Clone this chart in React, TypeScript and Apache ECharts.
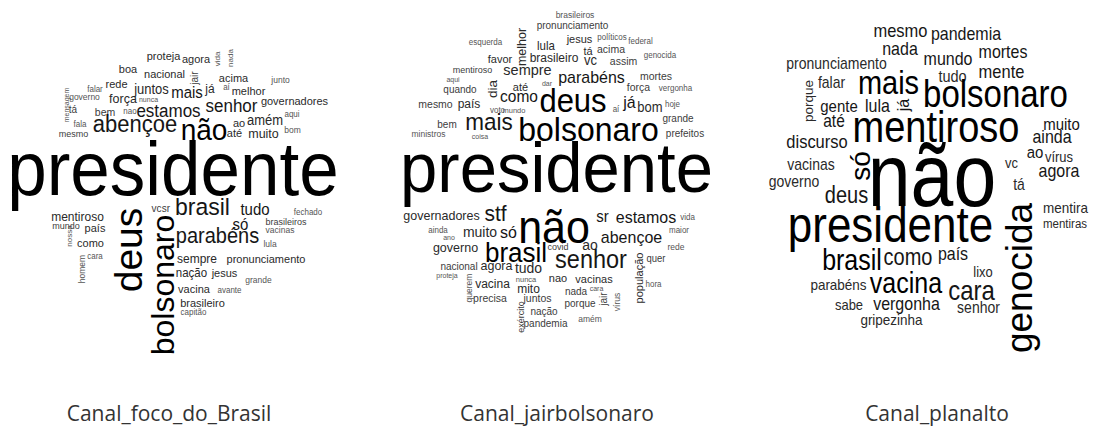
import React, { useEffect, useRef } from "react";
import * as echarts from "echarts";

// [word, font size (frequency), x, baseline y, rotation]
type Word = [string, number, number, number, number];

const focoWords: Word[] = [
  ["presidente", 71, 173, 195, 0],
  ["proteja", 11, 163.5, 60, 0],
  ["agora", 11, 196, 63, 0],
  ["boa", 11, 128, 73, 0],
  ["nacional", 11, 164.5, 78, 0],
  ["falar", 8, 95, 92, 0],
  ["rede", 11, 116.5, 88, 0],
  ["juntos", 13, 151.5, 94, 0],
  ["mais", 15, 187, 98, 0],
  ["governo", 8.5, 84.5, 100, 0],
  ["força", 12.5, 123, 103, 0],
  ["nunca", 7, 148.5, 102, 0],
  ["tá", 10, 73, 113, 0],
  ["bem", 10.5, 105, 116, 0],
  ["nao", 8, 130, 114, 0],
  ["estamos", 17, 168.5, 117, 0],
  ["fala", 8, 80, 127, 0],
  ["mesmo", 9, 73.5, 137, 0],
  ["abençoe", 22, 135, 132, 0],
  ["não", 28, 204, 140, 0],
  ["acima", 11, 233.5, 82, 0],
  ["junto", 8.5, 280.5, 83, 0],
  ["já", 12, 210, 93, 0],
  ["aí", 8, 226.5, 90, 0],
  ["melhor", 11, 248.5, 95, 0],
  ["senhor", 17, 231.5, 112, 0],
  ["governadores", 11, 294.5, 105, 0],
  ["aqui", 8, 292, 117, 0],
  ["ao", 11, 239, 127, 0],
  ["amém", 13, 265, 125, 0],
  ["bom", 8.5, 292.5, 133, 0],
  ["até", 11, 234.5, 137, 0],
  ["muito", 12.5, 263.5, 138, 0],
  ["mentiroso", 12, 77.5, 221, 0],
  ["mundo", 9, 66, 229, 0],
  ["país", 11, 95, 232, 0],
  ["como", 11, 90.5, 247, 0],
  ["cara", 8, 95, 259, 0],
  ["vc", 10, 156.5, 212, 0],
  ["sr", 10, 166, 212, 0],
  ["brasil", 23, 202.5, 215, 0],
  ["tudo", 15, 255, 215, 0],
  ["só", 15, 240.5, 230, 0],
  ["fechado", 8, 308, 215, 0],
  ["brasileiros", 9, 286, 225, 0],
  ["vacinas", 8.5, 280, 233, 0],
  ["parabéns", 20, 217.5, 243, 0],
  ["lula", 8.5, 270, 247, 0],
  ["sempre", 12, 197, 263, 0],
  ["pronunciamento", 11, 266, 263, 0],
  ["nação", 11.5, 191.5, 277, 0],
  ["jesus", 11, 224.5, 277, 0],
  ["grande", 8.5, 258.5, 283, 0],
  ["vacina", 11, 194, 293, 0],
  ["avante", 8, 229.5, 293, 0],
  ["brasileiro", 11, 202.5, 307, 0],
  ["capitão", 8, 193.5, 315, 0],
  ["mensagem", 7, 69, 105, 90],
  ["vida", 8, 220, 59, 90],
  ["nada", 8, 233, 58, 90],
  ["jair", 10, 198, 78, 90],
  ["nossa", 8, 72, 236, 90],
  ["homem", 8.5, 85, 269, 90],
  ["deus", 39, 142, 250, 90],
  ["bolsonaro", 32, 174, 285, 90],
];

const jairWords: Word[] = [
  ["brasileiros", 8.5, 575, 18, 0],
  ["pronunciamento", 10, 572.5, 29, 0],
  ["esquerda", 8, 485.5, 45, 0],
  ["lula", 11.5, 546, 50, 0],
  ["jesus", 11, 579.5, 43, 0],
  ["políticos", 8, 612, 40, 0],
  ["federal", 8, 640.5, 44, 0],
  ["tá", 11, 588, 55, 0],
  ["acima", 10.5, 611, 53, 0],
  ["brasileiro", 12, 554, 62, 0],
  ["vc", 13, 590.5, 65, 0],
  ["assim", 10.5, 623.5, 65, 0],
  ["genocida", 8, 660, 58, 0],
  ["favor", 11, 500, 63, 0],
  ["mentiroso", 9, 472.5, 73, 0],
  ["sempre", 14.5, 527.5, 75, 0],
  ["aqui", 7, 453, 82, 0],
  ["quando", 10, 460, 93, 0],
  ["até", 11, 520.5, 91, 0],
  ["dar", 7, 547, 86, 0],
  ["como", 15.5, 519, 102, 0],
  ["mesmo", 10.5, 435.5, 108, 0],
  ["país", 12, 469, 108, 0],
  ["voto", 8, 497.5, 113, 0],
  ["mundo", 7.5, 514, 113, 0],
  ["deus", 31, 573, 112, 0],
  ["bem", 10, 447, 128, 0],
  ["mais", 22.5, 489, 130, 0],
  ["ministros", 8.5, 428.5, 137, 0],
  ["coisa", 7, 480, 139, 0],
  ["bolsonaro", 32, 588.5, 141, 0],
  ["parabéns", 16, 591.5, 83, 0],
  ["mortes", 10.5, 656, 80, 0],
  ["força", 10.5, 638.5, 91, 0],
  ["vergonha", 8, 675.5, 91, 0],
  ["já", 16, 629.5, 108, 0],
  ["aí", 8, 616, 112, 0],
  ["bom", 13, 650, 112, 0],
  ["hoje", 8, 672.5, 107, 0],
  ["grande", 10, 678, 122, 0],
  ["prefeitos", 10, 685, 137, 0],
  ["presidente", 67, 556.5, 192, 0],
  ["governadores", 12.5, 441.5, 220, 0],
  ["stf", 21, 495.5, 221, 0],
  ["não", 43, 554, 243, 0],
  ["ainda", 8, 438, 233, 0],
  ["ano", 7, 449, 240, 0],
  ["muito", 14, 480, 237, 0],
  ["só", 16, 508.5, 238, 0],
  ["governo", 12.5, 455.5, 252, 0],
  ["brasil", 26, 516, 262, 0],
  ["covid", 9, 558, 250, 0],
  ["nacional", 10, 459, 270, 0],
  ["agora", 12.5, 496.5, 270, 0],
  ["tudo", 14, 528.5, 273, 0],
  ["proteja", 7, 447, 278, 0],
  ["vacina", 12, 492.5, 288, 0],
  ["nunca", 7.5, 526, 282, 0],
  ["nao", 11, 558, 282, 0],
  ["precisa", 10.5, 490, 302, 0],
  ["mito", 12, 528.5, 293, 0],
  ["juntos", 10.5, 537.5, 302, 0],
  ["nação", 10, 544, 315, 0],
  ["pandemia", 10, 545.5, 327, 0],
  ["sr", 15, 602.5, 222, 0],
  ["estamos", 16, 646, 223, 0],
  ["vida", 8, 687.5, 220, 0],
  ["maior", 8, 679, 233, 0],
  ["ao", 14, 590, 250, 0],
  ["abençoe", 16, 631.5, 243, 0],
  ["rede", 8.5, 676, 250, 0],
  ["senhor", 23.5, 591, 268, 0],
  ["quer", 9.5, 656, 262, 0],
  ["hora", 8, 653.5, 287, 0],
  ["vacinas", 11, 594, 283, 0],
  ["nada", 10, 576, 295, 0],
  ["cara", 7, 596.5, 291, 0],
  ["porque", 10, 580, 307, 0],
  ["amém", 8.5, 590, 322, 0],
  ["melhor", 12.5, 526, 47, 90],
  ["dia", 13.5, 497, 89, 90],
  ["querem", 8.5, 472, 288, 90],
  ["exército", 9, 524, 317, 90],
  ["população", 11, 643, 278, 90],
  ["jair", 10, 607, 299, 90],
  ["vírus", 8.5, 620, 302, 90],
];

const planaltoWords: Word[] = [
  ["mesmo", 16.5, 900.5, 37, 0],
  ["nada", 16, 900, 55, 0],
  ["pronunciamento", 14, 836.5, 69, 0],
  ["falar", 14, 831.5, 88, 0],
  ["mais", 29, 888.5, 94, 0],
  ["gente", 15, 839, 112, 0],
  ["lula", 16, 877.5, 112, 0],
  ["até", 15.5, 834, 127, 0],
  ["mentiroso", 38, 936, 142, 0],
  ["discurso", 16.5, 817, 148, 0],
  ["vacinas", 14, 811, 170, 0],
  ["governo", 14, 794, 187, 0],
  ["deus", 20, 846.5, 203, 0],
  ["não", 77, 932, 206, 0],
  ["pandemia", 16, 966, 40, 0],
  ["mundo", 16, 948, 65, 0],
  ["mortes", 16, 1003, 58, 0],
  ["tudo", 14.5, 952.5, 82, 0],
  ["mente", 16.5, 1001.5, 78, 0],
  ["bolsonaro", 33, 995.5, 107, 0],
  ["muito", 15, 1061.5, 130, 0],
  ["ainda", 16, 1052, 143, 0],
  ["ao", 15, 1035, 158, 0],
  ["vírus", 13, 1059, 162, 0],
  ["vc", 13, 1011.5, 168, 0],
  ["agora", 16, 1059, 177, 0],
  ["tá", 14, 1019, 190, 0],
  ["mentira", 13.5, 1065.5, 213, 0],
  ["mentiras", 11.5, 1065, 228, 0],
  ["presidente", 44, 890.5, 242, 0],
  ["país", 16, 953, 260, 0],
  ["como", 20, 908, 265, 0],
  ["brasil", 25, 852, 270, 0],
  ["lixo", 13, 983, 277, 0],
  ["parabéns", 13.5, 838.5, 290, 0],
  ["vacina", 25, 906, 293, 0],
  ["cara", 24, 971.5, 300, 0],
  ["sabe", 13, 849, 310, 0],
  ["vergonha", 16, 906.5, 310, 0],
  ["senhor", 14, 978.5, 313, 0],
  ["gripezinha", 13.5, 891.5, 325, 0],
  ["porque", 13.5, 813, 101, 90],
  ["já", 16, 909, 105, 90],
  ["só", 28, 870, 166, 90],
  ["genocida", 37, 1032, 278, 90],
];

const panelWords: Word[][] = [focoWords, jairWords, planaltoWords];
const panelNames = ["Canal_foco_do_Brasil", "Canal_jairbolsonaro", "Canal_planalto"];
const panelLabelX = [169, 557, 937];
const panelStretch = [1.06, 1.06, 1.15];

const WORD_FONT = "'Liberation Sans', Arial, Helvetica, sans-serif";

function colorFor(size: number): string {
  if (size >= 25) return "#000000";
  if (size >= 15) return "#161616";
  if (size >= 11) return "#2a2a2a";
  if (size >= 9) return "#3c3c3c";
  return "#555555";
}

function makeSeries(words: Word[], stretch: number) {
  return {
    type: "custom",
    coordinateSystem: "cartesian2d",
    silent: true,
    data: words.map((w) => [w[2], w[3], w[1], w[4]]),
    encode: { x: 0, y: 1 },
    renderItem: (params: any, api: any) => {
      const text = words[params.dataIndex][0];
      const x = api.value(0);
      const y = api.value(1);
      const size = api.value(2);
      const rot = api.value(3);
      const off = 0.3465 * size;
      const p = rot ? api.coord([x - off, y]) : api.coord([x, y - off * stretch]);
      return {
        type: "text",
        x: p[0],
        y: p[1],
        rotation: rot ? Math.PI / 2 : 0,
        scaleY: rot ? 1 : stretch,
        style: {
          text,
          font: `normal 400 ${size}px ${WORD_FONT}`,
          fill: colorFor(size),
          align: "center",
          verticalAlign: "middle",
          textAlign: "center",
          textVerticalAlign: "middle",
        },
      };
    },
  };
}

export default function App() {
  const ref = useRef<HTMLDivElement>(null);
  useEffect(() => {
    if (!ref.current) return;
    const chart = echarts.init(ref.current, undefined, { renderer: "svg" });
    chart.setOption({
      animation: false,
      backgroundColor: "#ffffff",
      grid: { left: 0, right: 0, top: 0, bottom: 0 },
      xAxis: { type: "value", min: 0, max: 1098, show: false },
      yAxis: { type: "value", min: 0, max: 428, inverse: true, show: false },
      series: panelWords.map((w, i) => makeSeries(w, panelStretch[i])),
      graphic: panelNames.map((name, i) => ({
        type: "text",
        x: panelLabelX[i],
        y: 423,
        silent: true,
        style: {
          text: name,
          font: "normal 400 21px 'Open Sans', Roboto, sans-serif",
          fill: "#333333",
          align: "center",
          verticalAlign: "bottom",
          textAlign: "center",
          textVerticalAlign: "bottom",
        },
      })),
    });
    return () => chart.dispose();
  }, []);
  return (
    <div
      ref={ref}
      style={{ position: "fixed", left: 0, top: 0, width: 1098, height: 428, background: "#fff" }}
    />
  );
}
